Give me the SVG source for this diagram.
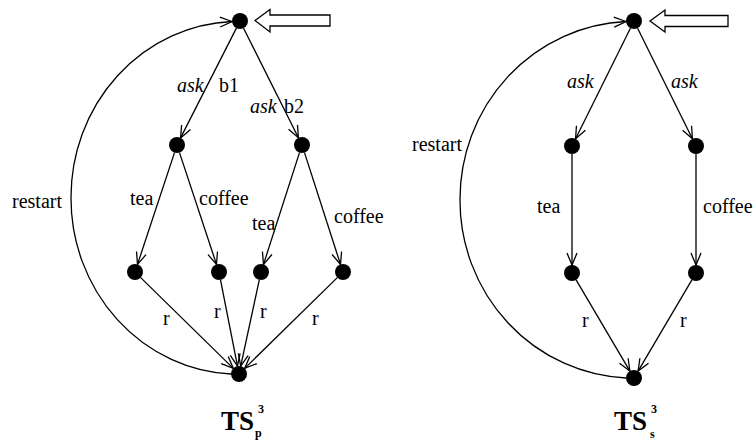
<svg xmlns="http://www.w3.org/2000/svg" width="753" height="443" viewBox="0 0 753 443">
<style>
.e{fill:none;stroke:#000;stroke-width:1.3}
.n{fill:#000}
text{font-family:"Liberation Serif","Times New Roman","DejaVu Serif","Noto Serif",serif;font-size:20px;fill:#000}
.i{font-style:italic}
.ts{font-weight:bold;font-size:27px}
.sm{font-weight:bold;font-size:12px}
.big{fill:#fff;stroke:#000;stroke-width:1.3}
</style>
<defs>
<marker id="a" markerUnits="userSpaceOnUse" markerWidth="14" markerHeight="12" refX="12" refY="5" orient="auto" overflow="visible">
<polyline points="0,0 12,5 0,10" fill="none" stroke="#000" stroke-width="1.3"/>
</marker>
</defs>
<g id="connectors">
<line class="e" x1="236.4" y1="28.1" x2="180.6" y2="137.9" marker-end="url(#a)"/>
<line class="e" x1="243.6" y1="28.2" x2="298.4" y2="137.8" marker-end="url(#a)"/>
<line class="e" x1="174.5" y1="152.6" x2="137.5" y2="264.4" marker-end="url(#a)"/>
<line class="e" x1="179.5" y1="152.6" x2="216.5" y2="264.4" marker-end="url(#a)"/>
<line class="e" x1="299.5" y1="152.6" x2="263.5" y2="264.4" marker-end="url(#a)"/>
<line class="e" x1="304.5" y1="152.6" x2="340.5" y2="264.4" marker-end="url(#a)"/>
<line class="e" x1="140.7" y1="277.6" x2="233.3" y2="368.4" marker-end="url(#a)"/>
<line class="e" x1="220.5" y1="279.9" x2="237.5" y2="366.1" marker-end="url(#a)"/>
<line class="e" x1="259.3" y1="279.8" x2="240.7" y2="366.2" marker-end="url(#a)"/>
<line class="e" x1="337.3" y1="277.6" x2="244.7" y2="368.4" marker-end="url(#a)"/>
<path class="e" d="M 231,374 A 168 176 0 0 1 71,198 A 168 176 0 0 1 232,21.5" marker-end="url(#a)"/>
<line class="e" x1="630.4" y1="28.2" x2="575.6" y2="138.8" marker-end="url(#a)"/>
<line class="e" x1="637.6" y1="28.2" x2="692.4" y2="138.8" marker-end="url(#a)"/>
<line class="e" x1="572" y1="154" x2="572" y2="265" marker-end="url(#a)"/>
<line class="e" x1="696" y1="154" x2="696" y2="265" marker-end="url(#a)"/>
<line class="e" x1="576.1" y1="279.9" x2="629.9" y2="371.1" marker-end="url(#a)"/>
<line class="e" x1="691.9" y1="279.9" x2="638.1" y2="371.1" marker-end="url(#a)"/>
<path class="e" d="M 626,378 A 174 178 0 0 1 460,200 A 174 178 0 0 1 626,21.5" marker-end="url(#a)"/>
<polygon class="big" points="255,20.5 270,9.5 270,15 330,15 330,26 270,26 270,32"/>
<polygon class="big" points="650,21 665,10 665,15.5 728,15.5 728,26.5 665,26.5 665,32"/>
</g>
<g id="labels" font-family="'Liberation Serif', 'Times New Roman', 'DejaVu Serif', serif">
<text x="177" y="92" class="i">ask</text>
<text x="219" y="92">b1</text>
<text x="250" y="113" class="i">ask</text>
<text x="284" y="113">b2</text>
<text x="12" y="208">restart</text>
<text x="130" y="205">tea</text>
<text x="199" y="205">coffee</text>
<text x="252" y="230">tea</text>
<text x="334" y="223">coffee</text>
<text x="163" y="325">r</text>
<text x="214" y="318">r</text>
<text x="260" y="318">r</text>
<text x="312" y="325">r</text>
<text x="221" y="430" class="ts">TS</text>
<text x="258" y="413" class="sm">3</text>
<text x="255" y="437" class="sm">p</text>
<text x="614" y="430" class="ts">TS</text>
<text x="651" y="413" class="sm">3</text>
<text x="650" y="438" class="sm">s</text>
<text x="567" y="88" class="i">ask</text>
<text x="671" y="88" class="i">ask</text>
<text x="412" y="151">restart</text>
<text x="537" y="213">tea</text>
<text x="703" y="213">coffee</text>
<text x="582" y="327">r</text>
<text x="680" y="327">r</text>
</g>
<g id="n_top_p"><circle class="n" cx="240" cy="21" r="8"/></g>
<g id="n_b1"><circle class="n" cx="177" cy="145" r="8"/></g>
<g id="n_b2"><circle class="n" cx="302" cy="145" r="8"/></g>
<g id="n_l1"><circle class="n" cx="135" cy="272" r="8"/></g>
<g id="n_l2"><circle class="n" cx="219" cy="272" r="8"/></g>
<g id="n_l3"><circle class="n" cx="261" cy="272" r="8"/></g>
<g id="n_l4"><circle class="n" cx="343" cy="272" r="8"/></g>
<g id="n_bot_p"><circle class="n" cx="239" cy="374" r="8"/></g>
<g id="n_top_s"><circle class="n" cx="634" cy="21" r="8"/></g>
<g id="n_m1"><circle class="n" cx="572" cy="146" r="8"/></g>
<g id="n_m2"><circle class="n" cx="696" cy="146" r="8"/></g>
<g id="n_n1"><circle class="n" cx="572" cy="273" r="8"/></g>
<g id="n_n2"><circle class="n" cx="696" cy="273" r="8"/></g>
<g id="n_bot_s"><circle class="n" cx="634" cy="378" r="8"/></g>
</svg>
